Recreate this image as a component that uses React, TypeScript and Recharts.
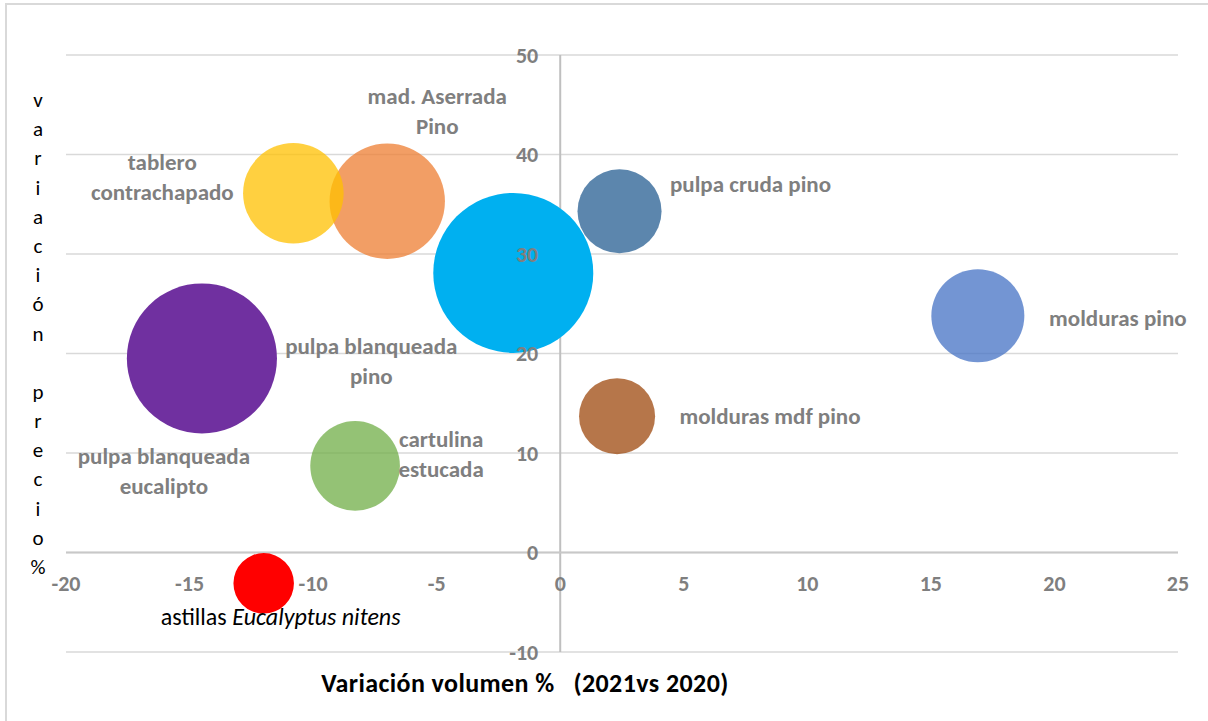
import React from 'react'
import { ScatterChart, Scatter, XAxis, YAxis, ZAxis, CartesianGrid, ReferenceLine, Cell } from 'recharts'

// productos (orden de dibujo: el naranja va debajo del amarillo)
const products = [
  'mad. Aserrada Pino',
  'tablero contrachapado',
  'pulpa blanqueada pino',
  'pulpa cruda pino',
  'molduras pino',
  'molduras mdf pino',
  'pulpa blanqueada eucalipto',
  'cartulina estucada',
  'astillas Eucalyptus nitens',
]
const volumeChange = [-7.0, -10.8, -1.9, 2.4, 16.9, 2.3, -14.5, -8.3, -12.0]
const priceChange = [35.3, 36.1, 28.1, 34.3, 23.8, 13.7, 19.5, 8.7, -3.1]
const bubbleSize = [52, 39.5, 100, 27.6, 33.8, 22.6, 88, 31.4, 14.3]

const xTicks = [-20, -15, -10, -5, 0, 5, 10, 15, 20, 25]
const yTicks = [-10, 0, 10, 20, 30, 40, 50]

const colors = ['#ED7D31', '#FFC000', '#00B0F0', '#255E91', '#4472C4', '#9E480E', '#7030A0', '#70AD47', '#FF0000']
const opacities = [0.75, 0.75, 1, 0.75, 0.75, 0.75, 1, 0.75, 1]

// etiquetas: líneas y desplazamiento respecto al centro de la burbuja (px)
const labelLines = [
  ['mad. Aserrada', 'Pino'],
  ['tablero', 'contrachapado'],
  ['pulpa blanqueada', 'pino'],
  ['pulpa cruda pino'],
  ['molduras pino'],
  ['molduras mdf pino'],
  ['pulpa blanqueada', 'eucalipto'],
  ['cartulina', 'estucada'],
  ['astillas Eucalyptus nitens'],
]
const labelOffset = [
  [50, -105], [-131, -31], [-142, 73], [131, -27], [140, 2], [153, 0], [-38, 98], [86, -27], [17, 33],
]

const FONT = 'Carlito, Lato, "Open Sans", sans-serif'
const GREY = '#7F7F7F'

const bubbles = products.map((name, i) => ({
  name,
  x: volumeChange[i],
  y: priceChange[i],
  z: bubbleSize[i],
  idx: i,
}))
const xTickData = xTicks.map(t => ({ x: t, y: 0 }))
const yTickData = yTicks.map(t => ({ x: 0, y: t }))

const yTitle = 'variación precio%'.split('')

function BubbleLabel(props: any) {
  const { cx, cy, payload } = props
  const i = payload.idx
  const [dx, dy] = labelOffset[i]
  if (i === 8) {
    return (
      <text x={cx + dx} y={cy + dy} textAnchor="middle" dominantBaseline="central"
        fontFamily={FONT} fontSize={24} fill="#000">
        astillas <tspan fontStyle="italic">Eucalyptus nitens</tspan>
      </text>
    )
  }
  return (
    <g>
      {labelLines[i].map((line, k) => (
        <text key={k} x={cx + dx} y={cy + dy + k * 30} textAnchor="middle" dominantBaseline="central"
          fontFamily={FONT} fontSize={23} fontWeight="bold" fill={GREY}>
          {line}
        </text>
      ))}
    </g>
  )
}

function XTick(props: any) {
  const { cx, cy, payload } = props
  return (
    <text x={cx} y={cy + 31} textAnchor="middle" dominantBaseline="central"
      fontFamily={FONT} fontSize={22} fontWeight="bold" fill={GREY}>
      {payload.x}
    </text>
  )
}

function YTick(props: any) {
  const { cx, cy, payload } = props
  return (
    <text x={cx - 22} y={cy} textAnchor="end" dominantBaseline="central"
      fontFamily={FONT} fontSize={22} fontWeight="bold" fill={GREY}>
      {payload.y}
    </text>
  )
}

export default function App() {
  return (
    <div style={{ position: 'absolute', left: 0, top: 0, width: 1208, height: 721, background: '#fff', overflow: 'hidden' }}>
      <div style={{ position: 'absolute', left: 5, top: 3, width: 1210, height: 730, border: '2px solid #D9D9D9' }} />
      <div style={{ position: 'absolute', left: 0, top: 0 }}>
        <ScatterChart width={1208} height={721} margin={{ top: 55, right: 30, bottom: 69, left: 66 }}>
          <CartesianGrid vertical={false} stroke="#D9D9D9" strokeWidth={1.5} />
          <XAxis type="number" dataKey="x" domain={[-20, 25]} ticks={xTicks} hide />
          <YAxis type="number" dataKey="y" domain={[-10, 50]} ticks={yTicks} hide />
          <ZAxis type="number" dataKey="z" domain={[0, 100]} range={[0, 20106]} />
          <ReferenceLine x={0} stroke="#BFBFBF" strokeWidth={2} />
          <ReferenceLine y={0} stroke="#C8C8C8" strokeWidth={2} />
          <Scatter data={bubbles} isAnimationActive={false}>
            {bubbles.map((b, i) => (
              <Cell key={b.name} fill={colors[i]} fillOpacity={opacities[i]} />
            ))}
          </Scatter>
          <Scatter data={bubbles} shape={BubbleLabel} isAnimationActive={false} />
          <Scatter data={xTickData} shape={XTick} isAnimationActive={false} />
          <Scatter data={yTickData} shape={YTick} isAnimationActive={false} />
        </ScatterChart>
      </div>
      <div style={{ position: 'absolute', left: 27, top: 86, width: 22, fontFamily: FONT, fontSize: 21, lineHeight: '29.2px', color: '#000', textAlign: 'center' }}>
        {yTitle.map((c, i) => (
          <div key={i} style={{ height: 29.2 }}>{c === ' ' ? '\u00a0' : c}</div>
        ))}
      </div>
      <div style={{ position: 'absolute', left: 0, width: 1050, top: 667, textAlign: 'center', fontFamily: FONT, fontSize: 26, fontWeight: 'bold', color: '#000', whiteSpace: 'pre', letterSpacing: 0.4 }}>
        {'Variación volumen %   (2021vs 2020)'}
      </div>
    </div>
  )
}
